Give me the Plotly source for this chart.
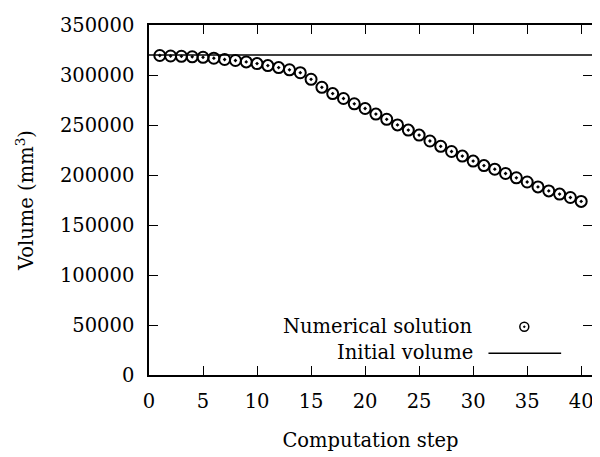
import plotly.graph_objects as go

steps = list(range(1, 41))
volume = [319500, 319000, 318700, 318200, 317700, 316800, 315500, 314500, 313100, 311400,
          309400, 307400, 305200, 302300, 295700, 287700, 281400, 276500, 271200, 266500,
          260900, 255700, 250100, 244900, 239900, 234000, 228700, 223500, 218900, 213900,
          209400, 205800, 201500, 197200, 193000, 188100, 184100, 180900, 177500, 173600]
initial_volume = 320000
x_range = [0, 41]
y_range = [0, 350000]
x_ticks = [0, 5, 10, 15, 20, 25, 30, 35, 40]
y_ticks = [0, 50000, 100000, 150000, 200000, 250000, 300000, 350000]
y_ticktext = [str(v) for v in y_ticks]

FONT = "DejaVu Serif"
FS = 19.5
fig = go.Figure()
fig.add_trace(go.Scatter(
    x=steps, y=volume, mode="markers", name="Numerical solution",
    marker=dict(symbol="circle-open-dot", size=11, color="black", line=dict(width=2, color="black")),
    cliponaxis=False, showlegend=False))
fig.add_trace(go.Scatter(
    x=x_range, y=[initial_volume, initial_volume], mode="lines", name="Initial volume",
    line=dict(color="black", width=1.5), showlegend=False))

axis_common = dict(
    showline=True, linecolor="black", linewidth=1.5, mirror="ticks",
    ticks="inside", ticklen=9, tickwidth=1.2, tickcolor="black",
    showgrid=False, zeroline=False, ticklabeloverflow="allow",
    tickfont=dict(family=FONT, size=FS, color="black"),
)
fig.update_xaxes(range=x_range, tickvals=x_ticks, ticklabelstandoff=8, **axis_common,
                 title=dict(text="Computation step", font=dict(family=FONT, size=FS, color="black"), standoff=21))
fig.update_yaxes(range=y_range, tickvals=y_ticks, ticktext=y_ticktext, ticklabelstandoff=9, **axis_common,
                 title=dict(text="Volume (mm<sup>3</sup>)", font=dict(family=FONT, size=FS, color="black"), standoff=21))

# Legend (gnuplot style: text left of key); positions relative to plot area
PL, PR, PT, PB = 149, 594, 19.5, 375
W, H = PR - PL, PB - PT
def px(x):
    return (x - PL) / W
def py(y):
    return (PB - y) / H

fig.add_annotation(xref="paper", yref="paper", x=px(476), y=py(326),
                   text="Numerical solution", showarrow=False, xanchor="right", yanchor="middle",
                   font=dict(family=FONT, size=FS, color="black"))
fig.add_annotation(xref="paper", yref="paper", x=px(476), y=py(352),
                   text="Initial volume", showarrow=False, xanchor="right", yanchor="middle",
                   font=dict(family=FONT, size=FS, color="black"))
fig.add_shape(type="circle", xref="paper", yref="paper",
              x0=px(526 - 4.5), x1=px(526 + 4.5), y0=py(326 + 4.5), y1=py(326 - 4.5),
              line=dict(color="black", width=1.5))
fig.add_shape(type="circle", xref="paper", yref="paper",
              x0=px(526 - 0.8), x1=px(526 + 0.8), y0=py(326 + 0.8), y1=py(326 - 0.8),
              line=dict(color="black", width=1), fillcolor="black")
fig.add_shape(type="line", xref="paper", yref="paper",
              x0=px(490), x1=px(563), y0=py(353), y1=py(353),
              line=dict(color="black", width=1.5))

# page has an 8px body margin: figure sits at (8, 8)
OFF = 8
FW, FH = 600 - OFF, 457 - OFF
fig.update_layout(
    width=FW, height=FH,
    margin=dict(l=PL - OFF, r=FW - (PR - OFF), t=PT - OFF, b=FH - (PB - OFF)),
    paper_bgcolor="white", plot_bgcolor="white",
    font=dict(family=FONT, size=FS, color="black"),
)
fig.write_html("out.html")
